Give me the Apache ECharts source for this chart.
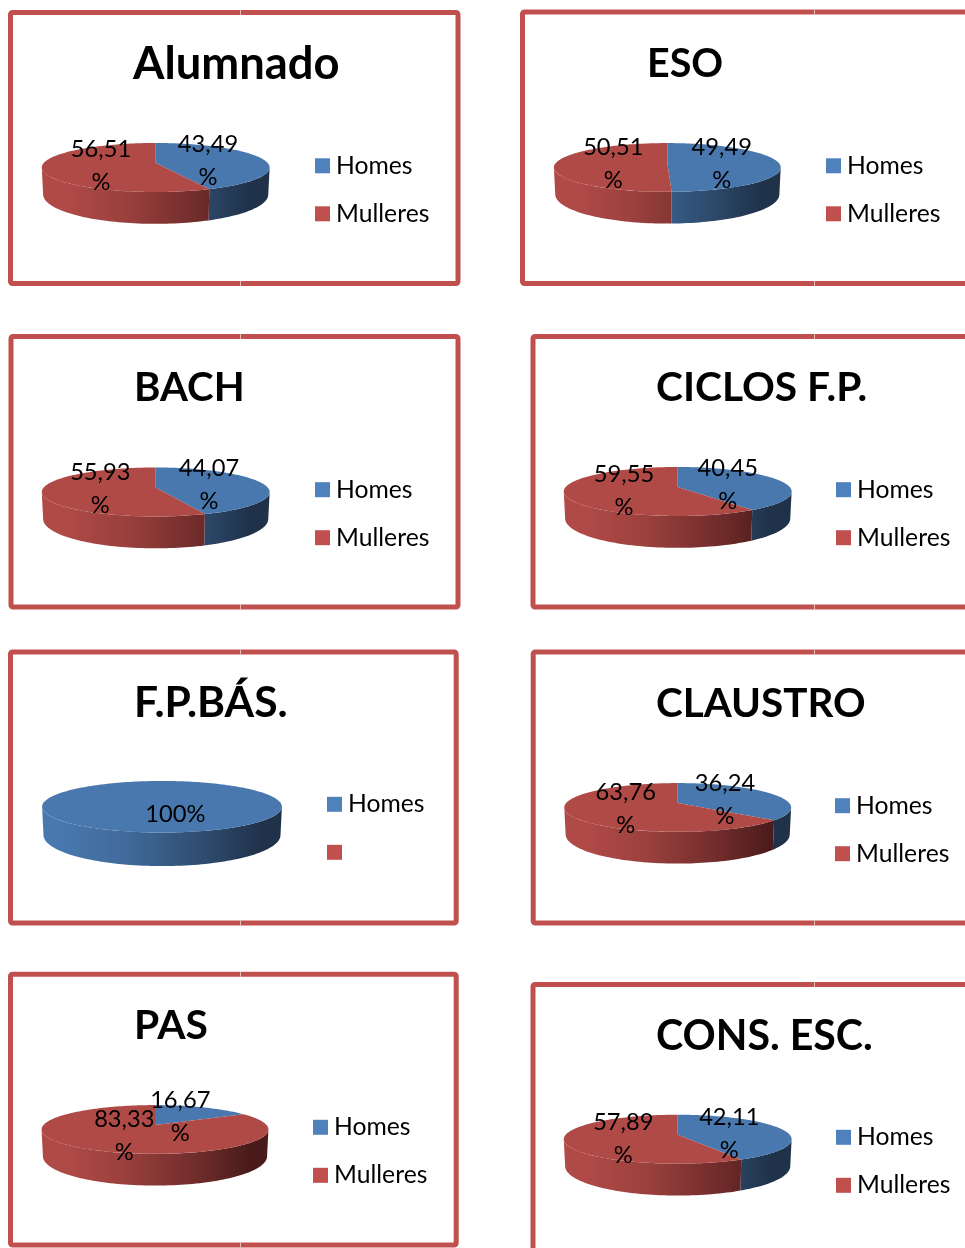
<!DOCTYPE html>
<html>
<head>
<meta charset="utf-8">
<title>Homes e mulleres</title>
<script src="https://cdn.jsdelivr.net/npm/echarts@6/dist/echarts.min.js"></script>
<style>
  html, body { margin: 0; padding: 0; background: #fff; }
  #chart { width: 965px; height: 1248px; }
</style>
</head>
<body>
<div id="chart"></div>
<script>
// values
const panelNames = ['Alumnado', 'ESO', 'BACH', 'CICLOS F.P.', 'F.P.BÁS.', 'CLAUSTRO', 'PAS', 'CONS. ESC.']
const seriesNames = ['Homes', 'Mulleres']
const homesValues = [43.49, 49.49, 44.07, 40.45, 100, 36.24, 16.67, 42.11]
const mulleresValues = [56.51, 50.51, 55.93, 59.55, 0, 63.76, 83.33, 57.89]

// layout per panel, same order as panelNames
const frames = [
  [8, 10, 460.5, 286], [520, 9.5, 985, 286],
  [8.5, 334, 460.5, 609.5], [530.5, 334, 985, 609.5],
  [8, 649.5, 458.7, 925.5], [530.7, 649.5, 985, 925.5],
  [8, 971.7, 458.7, 1247.5], [530.5, 982, 985, 1280]
]
const seamX = [240, 814, 240, 814, 240, 814, 240, 814]
const titleLeft = [133, 647, 134, 656, 134, 656, 134, 656]
const titleMiddle = [64, 64, 388, 388, 703, 704, 1026, 1037]
const titleSizes = [45.3, 39.4, 40.2, 40.7, 42.6, 40.4, 40.8, 41.1]
const pieCentres = [
  [155.7, 163], [667.3, 163], [155.7, 487.5], [677.7, 487],
  [162, 802], [677.7, 803], [155, 1125], [677.7, 1134.7]
]
const pieWidths = [228, 227, 228, 228, 240, 227, 227, 228]
const homesLabels = [
  [208, 161], [721.7, 163.5], [209, 485.3], [727.7, 484.7],
  [175.3, 814.8], [725, 799.5], [180.3, 1116.7], [729.3, 1133.5]
]
const mulleresLabels = [
  [101, 166], [613.3, 163.5], [100.3, 489.3], [624, 490.8],
  [0, 0], [625.7, 808.7], [124.3, 1136.3], [623.3, 1138.5]
]
const legendLeft = [315, 826, 315, 836, 327, 835, 313, 836]
const legendMiddle = [165.8, 165.8, 489.7, 489.7, 804.3, 805.7, 1127.3, 1137.3]

const FONT = 'Lato, Carlito, "Noto Sans", sans-serif'
const frameColor = '#C0504D'
const legendColors = ['#4F81BD', '#C0504D']
const topColors = [[72, 120, 174], [176, 74, 71]]
const darkColors = [[31, 50, 73], [74, 27, 27]]
// how dark the side gets going left to right across the pie
const sideShade = [[0.08, 0], [0.35, 0.2], [0.72, 0.68], [0.92, 1]]

// the pie is a flat disc seen in perspective: front of the disc looks larger
const K = 0.1837
const rimAngle = Math.acos(-K)

function project(p, angle, bottom) {
  const u = Math.sin(angle)
  const v = -Math.cos(angle)
  const s = 1 / (1 - K * v)
  const depth = p.depth * s
  return [
    p.cx + p.rx * u * s * (bottom ? 0.988 : 1),
    p.cy + p.ry * v * s + (bottom ? depth : 0)
  ]
}

function arc(p, from, to, bottom) {
  const points = []
  const steps = Math.max(2, Math.ceil((to - from) / 0.03))
  for (let i = 0; i <= steps; i++) {
    points.push(project(p, from + (to - from) * i / steps, bottom))
  }
  return points
}

function rgb(c) {
  return 'rgb(' + c.map(Math.round).join(',') + ')'
}

function sideStops(colorIndex) {
  const a = topColors[colorIndex]
  const b = darkColors[colorIndex]
  return sideShade.map(([offset, t]) => ({
    offset,
    color: rgb(a.map((c, n) => c + (b[n] - c) * t))
  }))
}

function labelText(value) {
  if (value === 100) return '100%'
  return value.toFixed(2).replace('.', ',') + '\n%'
}

function drawWedge(p, value, from, to, colorIndex, labelPos) {
  const children = []
  const sideFrom = Math.max(from, rimAngle)
  const sideTo = Math.min(to, Math.PI * 2 - rimAngle)
  if (sideTo > sideFrom) {
    const sidePoints = arc(p, sideFrom, sideTo, false).concat(arc(p, sideFrom, sideTo, true).reverse())
    children.push({
      type: 'polygon',
      shape: { points: sidePoints },
      style: {
        fill: {
          type: 'linear', global: true,
          x: p.cx - p.rx, y: 0, x2: p.cx + p.rx, y2: 0,
          colorStops: sideStops(colorIndex)
        }
      }
    })
  }
  const topPoints = arc(p, from, to, false)
  if (to - from < Math.PI * 2 - 0.001) topPoints.push([p.cx, p.cy])
  children.push({
    type: 'polygon',
    shape: { points: topPoints },
    style: { fill: rgb(topColors[colorIndex]) }
  })
  children.push({
    type: 'text',
    x: labelPos[0],
    y: labelPos[1],
    z2: 100,
    style: {
      text: labelText(value),
      fill: '#000',
      fontFamily: FONT,
      fontSize: 23.7,
      lineHeight: 33,
      align: 'center',
      verticalAlign: 'middle'
    }
  })
  return { type: 'group', children }
}

const series = []
const titles = []
const legends = []
const frameElements = []

panelNames.forEach((name, i) => {
  const total = homesValues[i] + mulleresValues[i]
  const split = Math.PI * 2 * homesValues[i] / total
  const scale = pieWidths[i] / 228
  const pie = {
    cx: pieCentres[i][0],
    cy: pieCentres[i][1],
    rx: 112 * scale,
    ry: 23.67 * scale,
    depth: 26 * scale
  }

  series.push({
    type: 'custom',
    name: seriesNames[0],
    coordinateSystem: 'none',
    itemStyle: { color: legendColors[0] },
    silent: true,
    data: [[homesValues[i]]],
    renderItem: (params, api) => drawWedge(pie, api.value(0), 0, split, 0, homesLabels[i])
  })
  series.push({
    type: 'custom',
    name: seriesNames[1],
    coordinateSystem: 'none',
    itemStyle: { color: legendColors[1] },
    silent: true,
    data: [[mulleresValues[i]]],
    renderItem: (params, api) => {
      if (!api.value(0)) return null
      return drawWedge(pie, api.value(0), split, Math.PI * 2, 1, mulleresLabels[i])
    }
  })

  titles.push({
    text: name,
    left: titleLeft[i],
    top: titleMiddle[i] - 26,
    padding: 0,
    textStyle: { fontFamily: FONT, fontSize: titleSizes[i], fontWeight: 'bold', color: '#000', lineHeight: 52 }
  })

  legends.push({
    orient: 'vertical',
    left: legendLeft[i],
    top: legendMiddle[i] - 12.5,
    padding: 0,
    itemWidth: 15,
    itemHeight: 15,
    itemGap: 23,
    selectedMode: false,
    icon: 'rect',
    data: seriesNames,
    // F.P.BÁS. has no women: its legend keeps the square and drops the name
    formatter: (n) => (n === seriesNames[1] && !mulleresValues[i] ? ' ' : n),
    textStyle: { fontFamily: FONT, fontSize: 24.7, lineHeight: 24, color: '#000', padding: [0, 0, 0, 1] }
  })

  const f = frames[i]
  frameElements.push({
    type: 'rect',
    shape: { x: f[0] + 2.5, y: f[1] + 2.5, width: f[2] - f[0] - 5, height: f[3] - f[1] - 5, r: 2 },
    style: { fill: 'none', stroke: frameColor, lineWidth: 5 }
  })
  // faint joins in the frame borders
  const edges = [[f[1], f[1] + 5], [f[3] - 5, f[3]]]
  edges.forEach(([y1, y2]) => {
    frameElements.push({
      type: 'line',
      shape: { x1: seamX[i] + 0.5, y1, x2: seamX[i] + 0.5, y2 },
      style: { stroke: 'rgba(255,255,255,0.6)', lineWidth: 1 },
      z: 10
    })
  })
})

const chart = echarts.init(document.getElementById('chart'))
chart.setOption({
  animation: false,
  backgroundColor: '#fff',
  title: titles,
  legend: legends,
  graphic: { elements: frameElements },
  series
})
</script>
</body>
</html>
